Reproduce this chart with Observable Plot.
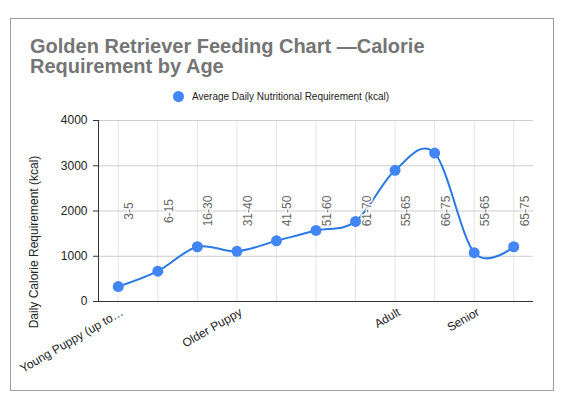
<!DOCTYPE html>
<html><head><meta charset="utf-8">
<script src="https://cdn.jsdelivr.net/npm/d3@7"></script>
<script src="https://cdn.jsdelivr.net/npm/@observablehq/plot@0.6"></script>
<style>
body{margin:0;background:#fff;}
#wrap{position:relative;width:564px;height:406px;font-family:"Liberation Sans",Arial,sans-serif;overflow:hidden;}
#frame{position:absolute;left:10px;top:18px;width:544px;height:373px;box-sizing:border-box;border:1px solid #9e9e9e;}
#title{position:absolute;left:30px;top:36px;font-size:20px;line-height:20px;font-weight:bold;color:#757575;white-space:nowrap;z-index:2;}
#legend{position:absolute;left:173px;top:90px;height:12px;display:flex;align-items:center;font-size:10px;color:#222;white-space:nowrap;z-index:2;}
#legend .sw{width:11px;height:11px;border-radius:50%;background:#4285f4;margin-right:8px;flex:none;}
#chart{position:absolute;left:0;top:0;z-index:1;}
</style>
</head><body>
<div id="wrap">
  <div id="frame"></div>
  <div id="chart"></div>
  <div id="title">Golden Retriever Feeding Chart —Calorie<br>Requirement by Age</div>
  <div id="legend"><span class="sw"></span><span>Average Daily Nutritional Requirement (kcal)</span></div>
</div>
<script>
const ranges = ["3-5", "6-15", "16-30", "31-40", "41-50", "51-60", "61-70", "55-65", "66-75", "55-65", "65-75"];
const values = [330, 670, 1210, 1110, 1340, 1570, 1770, 2900, 3280, 1080, 1210];
const stages = ["Young Puppy (up to…", "Older Puppy", "Adult", "Senior"];
const stageStart = [0, 3, 7, 9];
const yTicks = [0, 1000, 2000, 3000, 4000];
const yTitle = "Daily Calorie Requirement (kcal)";

const idx = d3.range(ranges.length);

const chart = Plot.plot({
  width: 564, height: 406,
  marginLeft: 98, marginRight: 31, marginTop: 120, marginBottom: 105,
  style: {fontFamily: "Liberation Sans, Arial, sans-serif", fontSize: "12px", background: "transparent", overflow: "visible"},
  x: {type: "point", domain: idx, padding: 0.5, round: false, axis: null},
  y: {domain: [0, 4000], axis: null},
  marks: [
    Plot.ruleX(idx, {x: d => d, stroke: "#e4e4e4", strokeWidth: 1}),
    Plot.ruleY(yTicks.slice(1), {y: d => d, stroke: "#cccccc", strokeWidth: 1}),
    Plot.line(idx, {x: d => d, y: i => values[i], curve: "cardinal", stroke: "#2a78e6", strokeWidth: 2}),
    Plot.text(idx, {x: d => d, text: i => ranges[i], frameAnchor: "middle", rotate: -90, textAnchor: "middle", lineAnchor: "bottom", dx: 15, fill: "#666666", stroke: "white", strokeWidth: 3, fontSize: 12}),
    Plot.dot(idx, {x: d => d, y: i => values[i], r: 5.5, fill: "#4285f4", stroke: "none"}),
    Plot.ruleY([0], {stroke: "#333333", strokeWidth: 1}),
    Plot.frame({anchor: "left", stroke: "#333333", strokeWidth: 1}),
    Plot.axisY({ticks: yTicks, tickFormat: d => String(d), tickSize: 5, tickPadding: 6, label: null, stroke: "#333333", fill: "#222222", fontSize: 12}),
    Plot.text(stageStart, {x: d => d, text: (d, i) => stages[i], frameAnchor: "bottom", rotate: -30, textAnchor: "end", lineAnchor: "bottom", dx: 6, dy: 13, fill: "#222222", fontSize: 12}),
    Plot.text([yTitle], {frameAnchor: "left", rotate: -90, textAnchor: "middle", dx: -64, dy: 31, fill: "#222222", fontSize: 12})
  ]
});
document.getElementById("chart").appendChild(chart);
</script>
</body></html>
